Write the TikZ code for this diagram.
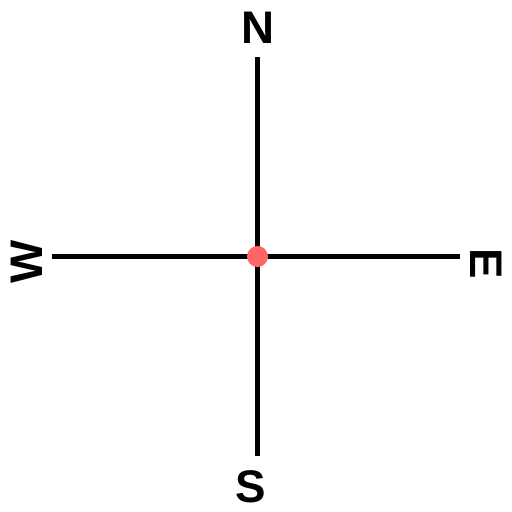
\documentclass[tikz,border=0pt]{standalone}
\usepackage{fontspec}
\setmainfont{Liberation Sans}
\definecolor{dotred}{HTML}{FF6666}
\tikzset{
    dir/.style={font=\fontsize{26}{30}\selectfont\bfseries, inner sep=0pt},
    axis/.style={line width=2.3pt}
}
\begin{document}
\begin{tikzpicture}[x=0.02cm,y=-0.02cm]
        \useasboundingbox (0,0) rectangle (512,512);
        \node[dir] (n) at (257.5,28) {N};
        \node[dir] (s) at (251,487) {S};
        \node[dir,rotate=90] (w) at (27,262) {W};
        \node[dir,rotate=-90] (e) at (486,264) {E};
        \coordinate (top) at (257.5,57);
        \coordinate (bottom) at (257.5,456);
        \coordinate (left) at (52,256.5);
        \coordinate (right) at (460,256.5);
        \draw[axis] (top) -- (bottom);
        \draw[axis] (left) -- (right);
        \node[circle,fill=dotred,minimum size=0.42cm,inner sep=0pt] (centre) at (257.5,256.5) {};
    \end{tikzpicture}
\end{document}
